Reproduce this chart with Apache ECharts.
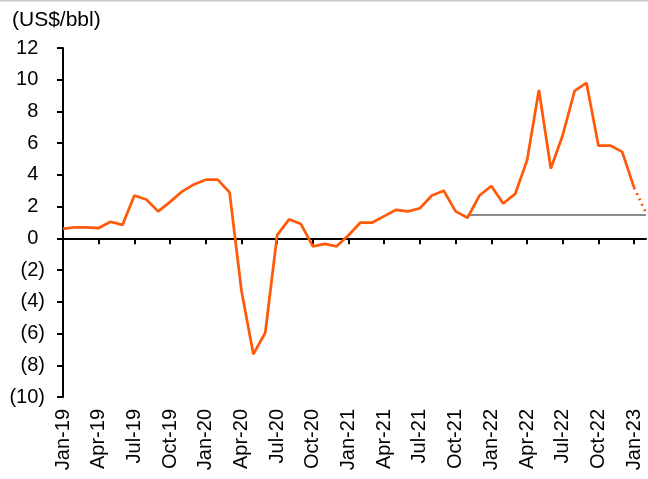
<!DOCTYPE html>
<html>
<head>
<meta charset="utf-8">
<script src="https://cdn.jsdelivr.net/npm/echarts@6/dist/echarts.min.js"></script>
<style>
html,body{margin:0;padding:0;background:#fff;}
#chart{width:648px;height:479px;}
</style>
</head>
<body>
<div id="chart"></div>
<script>
var months = ['Jan-19','Feb-19','Mar-19','Apr-19','May-19','Jun-19','Jul-19','Aug-19','Sep-19','Oct-19','Nov-19','Dec-19',
  'Jan-20','Feb-20','Mar-20','Apr-20','May-20','Jun-20','Jul-20','Aug-20','Sep-20','Oct-20','Nov-20','Dec-20',
  'Jan-21','Feb-21','Mar-21','Apr-21','May-21','Jun-21','Jul-21','Aug-21','Sep-21','Oct-21','Nov-21','Dec-21',
  'Jan-22','Feb-22','Mar-22','Apr-22','May-22','Jun-22','Jul-22','Aug-22','Sep-22','Oct-22','Nov-22','Dec-22',
  'Jan-23','Feb-23'];
// Actual spread (Jan-19 .. Jan-23)
var spreadActual = [0.6,0.7,0.7,0.65,1.05,0.85,2.7,2.45,1.7,2.3,2.95,3.4,
  3.7,3.7,2.9,-3.3,-7.3,-5.95,0.2,1.2,0.9,-0.5,-0.35,-0.5,
  0.2,1.0,1.0,1.4,1.8,1.7,1.9,2.7,3.0,1.7,1.3,2.7,
  3.3,2.2,2.8,4.9,9.35,4.4,6.5,9.3,9.8,5.85,5.85,5.45,
  3.2];
// Estimate for the final month (dotted)
var spreadEstimate = 1.6;
// Average level shown from Nov-21
var avgLevel = 1.47;
var avgStart = 'Nov-21';
var yTicks = {min:-10, max:12, interval:2};

var solidData = spreadActual.slice();
var dottedData = months.map(function(m,i){
  if (i === spreadActual.length - 1) return spreadActual[i];
  if (i === spreadActual.length) return spreadEstimate;
  return null;
});
var startIdx = months.indexOf(avgStart);
var avgData = months.map(function(m,i){ return i >= startIdx ? avgLevel : null; });

var font = 'Liberation Sans, Arial, sans-serif';
var chart = echarts.init(document.getElementById('chart'), null, {renderer:'canvas'});
chart.setOption({
  animation:false,
  backgroundColor:'#fff',
  graphic:[{type:'line', shape:{x1:0,y1:0.5,x2:648,y2:0.5}, style:{stroke:'#c8c8c8', lineWidth:2}}],
  title:{text:'(US$/bbl)', left:7, top:5, textStyle:{fontFamily:font, fontSize:21, fontWeight:'normal', color:'#000'}},
  grid:{left:63, right:2, top:48, bottom:82, containLabel:false},
  xAxis:[{
    type:'category', data:months, boundaryGap:false, position:'bottom',
    axisLine:{show:false, onZero:false}, axisTick:{show:false},
    axisLabel:{interval:2, rotate:90, margin:12, fontFamily:font, fontSize:20, color:'#000'},
    splitLine:{show:false}
  },{
    type:'category', data:months, boundaryGap:false, position:'bottom',
    axisLine:{show:true, onZero:true, lineStyle:{color:'#000', width:2}},
    axisTick:{show:true, interval:2, length:6, lineStyle:{color:'#000', width:2}},
    axisLabel:{show:false}, splitLine:{show:false}
  }],
  yAxis:{
    type:'value', min:yTicks.min, max:yTicks.max, interval:yTicks.interval,
    axisLine:{show:true, lineStyle:{color:'#000', width:2}},
    axisTick:{show:true, length:6, lineStyle:{color:'#000', width:2}},
    splitLine:{show:false},
    axisLabel:{margin:18, fontFamily:font, fontSize:20, color:'#000',
      formatter:function(v){ return v < 0 ? '{a|(' + (-v) + ')}' : '{a|' + v + '}{p|)}'; },
      rich:{
        a:{fontFamily:font, fontSize:20, color:'#000'},
        p:{fontFamily:font, fontSize:20, color:'rgba(0,0,0,0)'}
      }}
  },
  series:[
    {type:'line', xAxisIndex:0, data:avgData, symbol:'none', lineStyle:{color:'#8c8c8c', width:2}, z:2},
    {type:'line', xAxisIndex:0, data:solidData, symbol:'none', lineStyle:{color:'#FF5A0A', width:2.75}, z:3},
    {type:'line', xAxisIndex:0, data:dottedData, symbol:'none', lineStyle:{color:'#FF5A0A', width:2.75, type:[2,4]}, z:3}
  ]
});
</script>
</body>
</html>
